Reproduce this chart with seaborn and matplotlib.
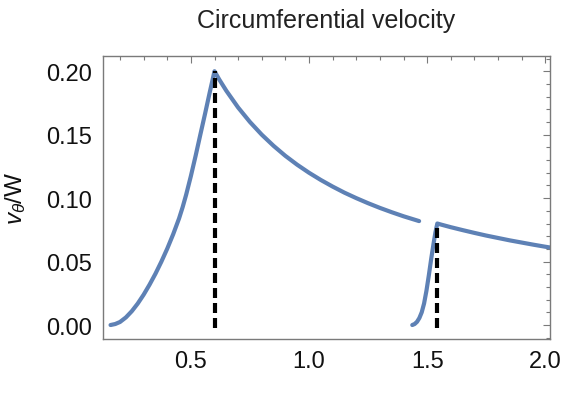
import numpy as np
import pandas as pd
import matplotlib
matplotlib.use("Agg")
import matplotlib.pyplot as plt
import seaborn as sns
from matplotlib.ticker import MultipleLocator, FormatStrFormatter

# --- data ---
# first vortex: rise then 1/r-like decay
r1 = [0.160, 0.18, 0.20, 0.225, 0.25, 0.275, 0.30, 0.325, 0.35, 0.375, 0.40, 0.425,
      0.45, 0.465, 0.48, 0.50, 0.52, 0.54, 0.56, 0.58, 0.60,
      0.62, 0.65, 0.70, 0.75, 0.80, 0.85, 0.90, 0.95, 1.00, 1.05, 1.10, 1.15,
      1.20, 1.25, 1.30, 1.35, 1.40, 1.466]
v1 = [0.000, 0.0008, 0.0024, 0.0060, 0.0109, 0.0169, 0.0239, 0.0318, 0.0404, 0.0499,
      0.0602, 0.0715, 0.0840, 0.0928, 0.1027, 0.1174, 0.1333, 0.1500, 0.1665, 0.1835, 0.2000,
      0.1935, 0.1846, 0.1714, 0.1600, 0.1500, 0.1412, 0.1333, 0.1263, 0.1200, 0.1143,
      0.1091, 0.1043, 0.1000, 0.0960, 0.0923, 0.0889, 0.0857, 0.0819]

# second vortex
r2 = [1.437, 1.447, 1.457, 1.467, 1.477, 1.487, 1.497, 1.507, 1.517, 1.527, 1.535, 1.543,
      1.56, 1.60, 1.65, 1.70, 1.75, 1.80, 1.85, 1.90, 1.95, 2.00, 2.02]
v2 = [0.000, 0.0008, 0.0025, 0.0055, 0.010, 0.017, 0.027, 0.039, 0.052, 0.064, 0.073, 0.080,
      0.0791, 0.0771, 0.0748, 0.0726, 0.0705, 0.0686, 0.0667, 0.0650, 0.0633, 0.0617, 0.0611]

# dashed markers
mark_r = [0.60, 1.543]
mark_v = [0.200, 0.080]

x_ticks = [0.5, 1.0, 1.5, 2.0]
y_ticks = [0.00, 0.05, 0.10, 0.15, 0.20]
title = "Circumferential velocity"
ylabel = r"$v_\theta$/W"

sns.set_theme(style="white")
plt.rcParams["font.family"] = ["Liberation Sans", "DejaVu Sans"]
plt.rcParams["mathtext.fontset"] = "custom"
plt.rcParams["mathtext.it"] = "Liberation Sans:italic"
plt.rcParams["mathtext.rm"] = "Liberation Sans"

fig = plt.figure(figsize=(5.64, 4.06), dpi=100)
ax = fig.add_axes([0.1826, 0.1626, 0.9752 - 0.1826, 0.8596 - 0.1626])

blue = "#5E81B5"
df1 = pd.DataFrame({"r": r1, "v": v1})
df2 = pd.DataFrame({"r": r2, "v": v2})
sns.lineplot(data=df1, x="r", y="v", ax=ax, color=blue, lw=3.0, sort=False,
             estimator=None, solid_joinstyle="round")
sns.lineplot(data=df2, x="r", y="v", ax=ax, color=blue, lw=3.0, sort=False,
             estimator=None, solid_joinstyle="round")

for r, v in zip(mark_r, mark_v):
    dfm = pd.DataFrame({"r": [r, r], "v": [-0.002, v]})
    sns.lineplot(data=dfm, x="r", y="v", ax=ax, color="black", lw=3.0,
                 estimator=None, sort=False, linestyle=(0, (2.4, 1.2)),
                 zorder=5)

ax.set_xlim(0.128, 2.02)
ax.set_ylim(-0.011, 0.212)
ax.set_xticks(x_ticks)
ax.set_yticks(y_ticks)
ax.xaxis.set_major_formatter(FormatStrFormatter("%.1f"))
ax.yaxis.set_major_formatter(FormatStrFormatter("%.2f"))
ax.xaxis.set_minor_locator(MultipleLocator(0.1))
ax.yaxis.set_minor_locator(MultipleLocator(0.01))

frame_c = "#7a7a7a"
for s in ax.spines.values():
    s.set_visible(True)
    s.set_color(frame_c)
    s.set_linewidth(1.0)
ax.tick_params(which="both", direction="in", top=True, right=True,
               color=frame_c, width=0.8, labelsize=17, labelcolor="#111111")
ax.tick_params(which="major", length=5, pad=8)
ax.tick_params(which="minor", length=3)
ax.set_xlabel("")
ax.set_ylabel(ylabel, fontsize=17.5, color="#111111", labelpad=13)
ax.set_title(title, fontsize=18, color="#222222", pad=21)
ax.grid(False)

fig.savefig("out.png", dpi=100, facecolor="white")
